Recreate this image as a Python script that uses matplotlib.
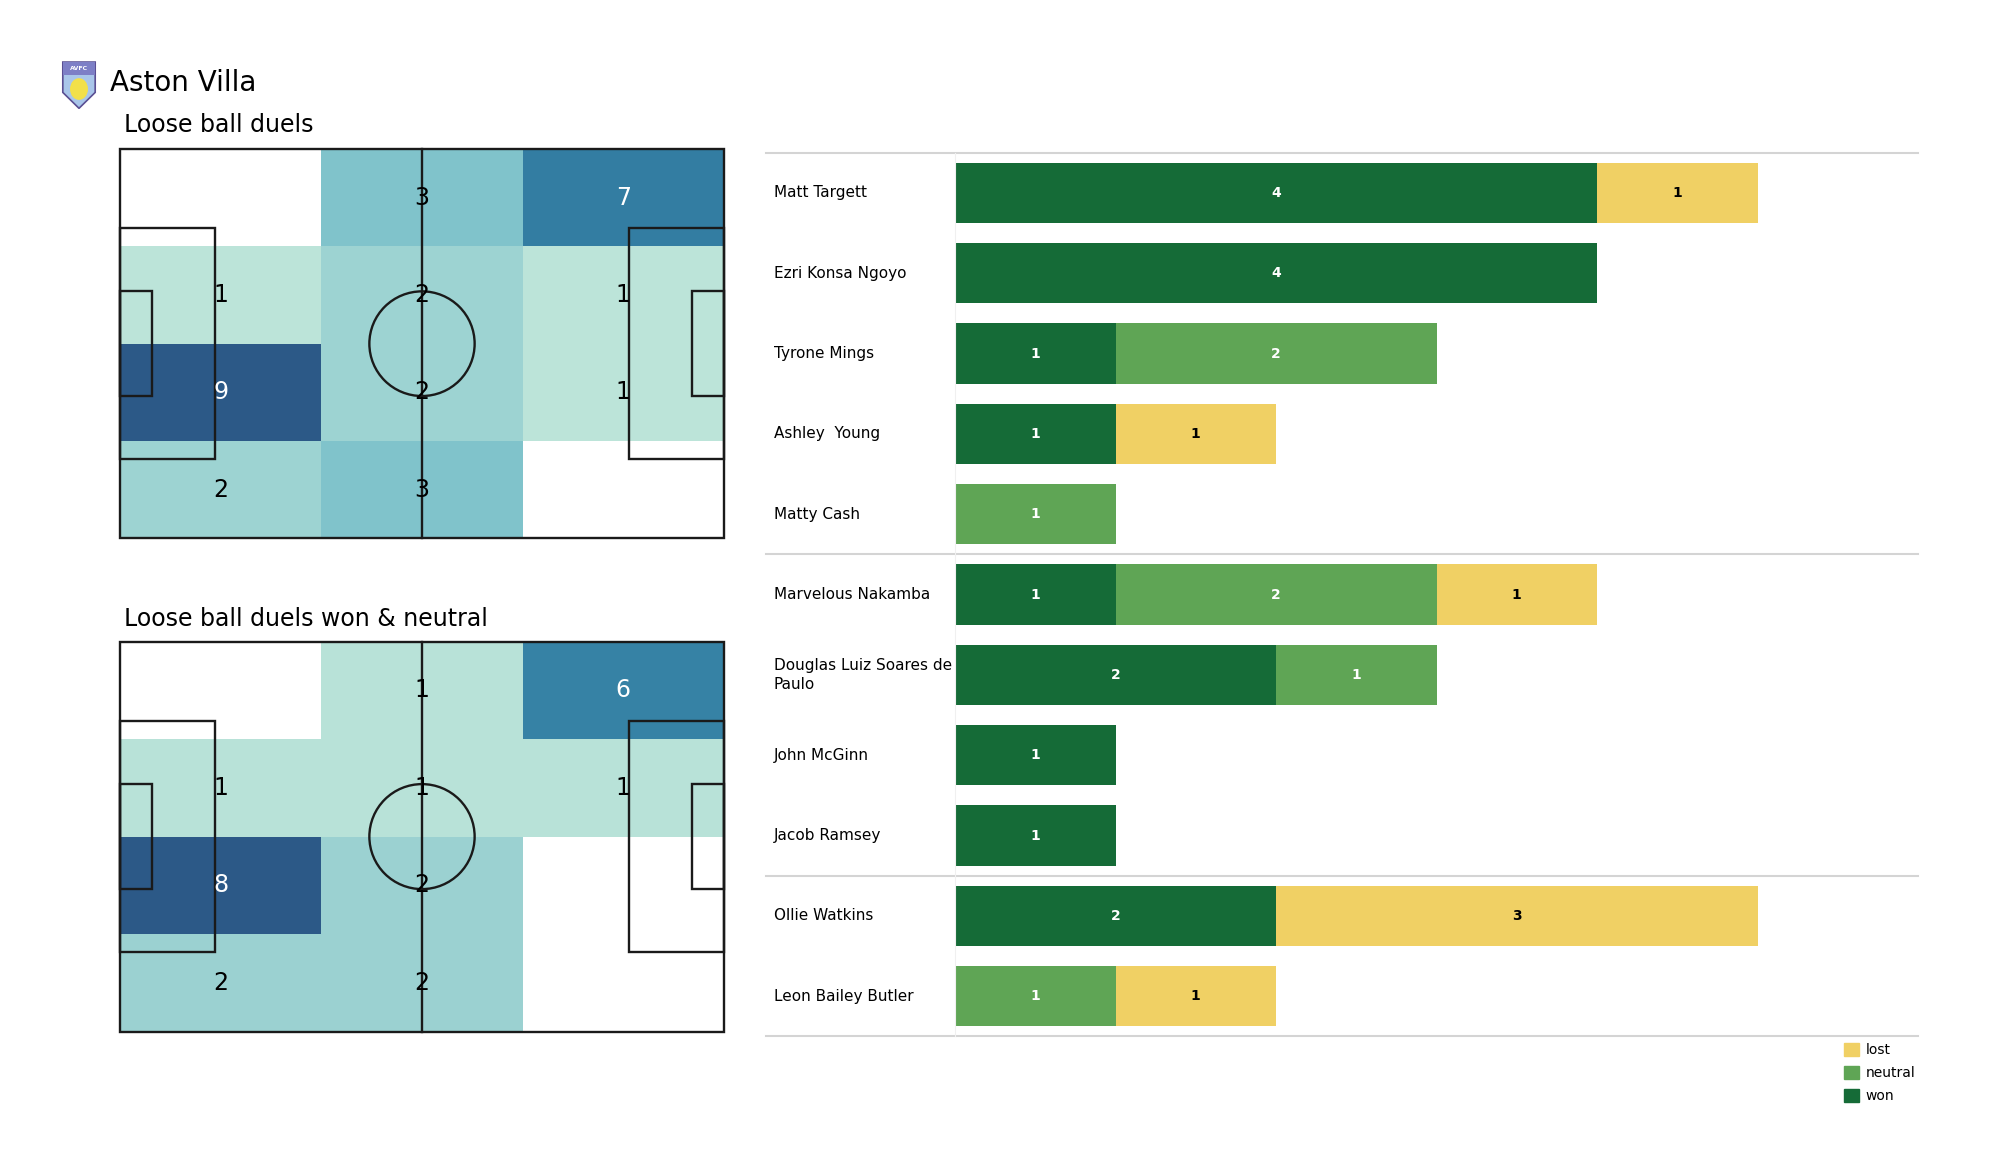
import textwrap
import numpy as np
import matplotlib
matplotlib.use('Agg')
import matplotlib.pyplot as plt
import matplotlib.transforms as mtransforms
from matplotlib.patches import Rectangle, Circle, Polygon, Patch, Ellipse
from matplotlib.colors import LinearSegmentedColormap

# zone counts, rows top -> bottom, columns left -> right
all_duels = [[0, 3, 7],
             [1, 2, 1],
             [9, 2, 1],
             [2, 3, 0]]
won_neutral = [[0, 1, 6],
               [1, 1, 1],
               [8, 2, 0],
               [2, 2, 0]]

players = ["Matt Targett", "Ezri Konsa Ngoyo", "Tyrone Mings", "Ashley  Young",
           "Matty Cash", "Marvelous Nakamba", "Douglas Luiz Soares de Paulo",
           "John McGinn", "Jacob Ramsey", "Ollie Watkins", "Leon Bailey Butler"]
won = [4, 4, 1, 1, 0, 1, 2, 1, 1, 2, 0]
neutral = [0, 0, 2, 0, 1, 2, 1, 0, 0, 0, 1]
lost = [1, 0, 0, 1, 0, 1, 0, 0, 0, 3, 1]
group_sizes = [5, 4, 2]

won_c = '#156b37'
neutral_c = '#5fa555'
lost_c = '#f0d064'
line_c = '#d4d4d4'

heat_cmap = LinearSegmentedColormap.from_list(
    'villa_heat',
    [(0.0, '#d9f0e8'), (0.11, '#bce4d9'), (0.22, '#9dd3d2'), (0.25, '#9bd1d1'),
     (0.333, '#80c3cb'), (0.77, '#337fa3'), (1.0, '#2c5987')])


def draw_pitch(ax):
    lc = '#1a1a1a'
    lw = 1.7
    kw = dict(fill=False, ec=lc, lw=lw, zorder=3, clip_on=False)
    ax.add_patch(Rectangle((0, 0), 105, 68, **kw))
    ax.plot([52.5, 52.5], [0, 68], color=lc, lw=lw, zorder=3, clip_on=False)
    ax.add_patch(Circle((52.5, 34), 9.15, **kw))
    ax.add_patch(Rectangle((0, 13.84), 16.5, 40.32, **kw))
    ax.add_patch(Rectangle((105 - 16.5, 13.84), 16.5, 40.32, **kw))
    ax.add_patch(Rectangle((0, 24.84), 5.5, 18.32, **kw))
    ax.add_patch(Rectangle((105 - 5.5, 24.84), 5.5, 18.32, **kw))
    ax.set_xlim(0, 105)
    ax.set_ylim(68, 0)
    ax.axis('off')


def draw_heat(ax, counts):
    arr = np.array(counts, dtype=float)
    xe = np.linspace(0, 105, arr.shape[1] + 1)
    ye = np.linspace(0, 68, arr.shape[0] + 1)
    vmax = arr.max()
    ax.pcolormesh(xe, ye, np.ma.masked_equal(arr, 0), cmap=heat_cmap,
                  vmin=0, vmax=vmax, zorder=1)
    for i in range(arr.shape[0]):
        for j in range(arr.shape[1]):
            if arr[i, j] > 0:
                col = 'white' if arr[i, j] / vmax > 0.6 else 'black'
                ax.text((xe[j] + xe[j + 1]) / 2, (ye[i] + ye[i + 1]) / 2,
                        str(int(arr[i, j])), ha='center', va='center',
                        fontsize=17, color=col, zorder=4)
    draw_pitch(ax)


fig = plt.figure(figsize=(20, 11.75), dpi=100)

# header
fig.text(0.055, 0.929, "Aston Villa", fontsize=20, va='center')
fig.text(0.062, 0.894, "Loose ball duels", fontsize=17, va='center')
fig.text(0.062, 0.473, "Loose ball duels won & neutral", fontsize=17, va='center')

# simple crest
lax = fig.add_axes([0.0305, 0.907, 0.018, 0.041])
lax.set_xlim(0, 1)
lax.set_ylim(0, 1)
lax.axis('off')
lax.add_patch(Polygon([(0.05, 0.98), (0.95, 0.98), (0.95, 0.35), (0.5, 0.02), (0.05, 0.35)],
                      closed=True, fc='#a9c6ea', ec='#5a4f93', lw=1.2))
lax.add_patch(Rectangle((0.05, 0.72), 0.9, 0.26, fc='#7d7fc6', ec='none'))
lax.text(0.5, 0.85, "AVFC", fontsize=4.5, color='white', ha='center', va='center',
         fontweight='bold')
lax.add_patch(Ellipse((0.5, 0.42), 0.5, 0.45, fc='#f2e04a', ec='none'))

# pitches
ax1 = fig.add_axes([0.060, 0.542, 0.302, 0.331])
draw_heat(ax1, all_duels)
ax2 = fig.add_axes([0.060, 0.122, 0.302, 0.332])
draw_heat(ax2, won_neutral)

# stacked bars
ax = fig.add_axes([0.4775, 0.118, 0.4815, 0.752])
y = np.arange(len(players))
left = np.zeros(len(players))
for vals, color, tcol in [(won, won_c, 'white'), (neutral, neutral_c, 'white'),
                          (lost, lost_c, 'black')]:
    vals = np.array(vals)
    ax.barh(y, vals, left=left, height=0.75, color=color)
    for yi, v, l in zip(y, vals, left):
        if v > 0:
            ax.text(l + v / 2, yi, str(v), ha='center', va='center',
                    color=tcol, fontsize=10, fontweight='bold')
    left += vals

ax.set_xlim(0, 6)
ax.set_ylim(len(players) - 0.5, -0.5)
ax.set_xticks([])
ax.set_yticks([])
for s in ['top', 'right', 'bottom']:
    ax.spines[s].set_visible(False)
ax.spines['left'].set_color('#f0f0f0')

trans = mtransforms.blended_transform_factory(ax.transAxes, ax.transData)
for yi, name in zip(y, players):
    ax.text(-0.188, yi, textwrap.fill(name, 22), transform=trans,
            ha='left', va='center', fontsize=11, linespacing=1.35)

bounds = np.concatenate([[0], np.cumsum(group_sizes)]) - 0.5
for b in bounds:
    ax.plot([-0.196, 1.0], [b, b], transform=trans, color=line_c, lw=1.5,
            clip_on=False, zorder=0)

fig.legend(handles=[Patch(color=lost_c, label='lost'),
                    Patch(color=neutral_c, label='neutral'),
                    Patch(color=won_c, label='won')],
           loc='upper left', bbox_to_anchor=(0.919, 0.117), frameon=False,
           fontsize=10, handlelength=1.1, handleheight=1.1, handletextpad=0.5,
           labelspacing=0.6, borderaxespad=0)

fig.savefig('out.png', dpi=100)
